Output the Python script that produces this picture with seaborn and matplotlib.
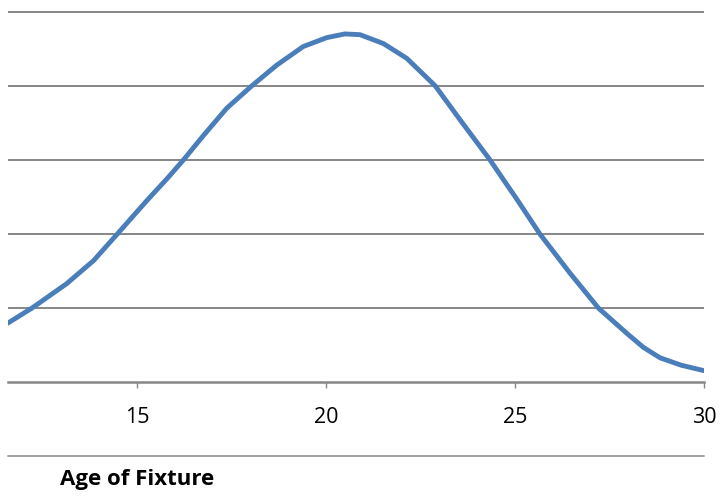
import matplotlib
matplotlib.use("Agg")
import matplotlib.pyplot as plt
import seaborn as sns
import pandas as pd
from matplotlib.lines import Line2D

# Data
age = [11.59, 12.22, 13.14, 13.85, 14.48, 15.26, 15.82, 16.23, 16.76, 17.38,
       18.04, 18.70, 19.40, 20.02, 20.50, 20.90, 21.52, 22.14, 22.89, 23.55,
       24.34, 24.74, 25.05, 25.66, 26.46, 27.21, 27.96, 28.40, 28.84, 29.40, 30.00]
value = [0.80, 1.00, 1.33, 1.64, 2.00, 2.45, 2.76, 3.00, 3.33, 3.70,
         4.00, 4.28, 4.53, 4.65, 4.70, 4.69, 4.57, 4.37, 4.00, 3.54,
         3.00, 2.70, 2.47, 2.00, 1.47, 1.00, 0.66, 0.47, 0.33, 0.23, 0.157]
xticks = [15, 20, 25, 30]
xlabel = "Age of Fixture"

df = pd.DataFrame({"age": age, "value": value})

sns.set_theme(style="white")
plt.rcParams["font.family"] = ["Open Sans", "DejaVu Sans"]

W, H = 720, 496
fig = plt.figure(figsize=(W / 100, H / 100), dpi=100)
left, right = 8, 704
bottom_px, top_px = 382.3, 10.0
ymax = 5 + (11.7 - top_px) / 74.1
ax = fig.add_axes([left / W, 1 - bottom_px / H, (right - left) / W, (bottom_px - top_px) / H])

sns.lineplot(data=df, x="age", y="value", ax=ax, color="#4A7EBB", linewidth=3.5,
             solid_capstyle="round", solid_joinstyle="round")

ax.set_xlim(11.59, 30.0)
ax.set_ylim(0, ymax)
ax.set_xticks(xticks)
ax.set_xticklabels([str(t) for t in xticks])
ax.set_yticks([1, 2, 3, 4, 5])
ax.set_yticklabels([])
ax.yaxis.grid(True, color="#868686", linewidth=1.4)
ax.xaxis.grid(False)
for s in ["top", "left", "right"]:
    ax.spines[s].set_visible(False)
ax.spines["bottom"].set_color("#868686")
ax.spines["bottom"].set_linewidth(1.8)
ax.tick_params(axis="x", direction="out", length=4.5, width=1.0, color="#868686",
               labelsize=15.5, labelcolor="black", pad=13, bottom=True)
ax.tick_params(axis="y", length=0)
ax.set_xlabel("")
ax.set_ylabel("")

# separator line below the axis
fig.add_artist(Line2D([left / W, right / W], [1 - 456 / H, 1 - 456 / H],
                      color="#999999", linewidth=1.3))
fig.text(60 / W, 1 - 479 / H, xlabel, fontsize=16, fontweight="bold",
         ha="left", va="center", color="black")

fig.savefig("out.png", dpi=100)
